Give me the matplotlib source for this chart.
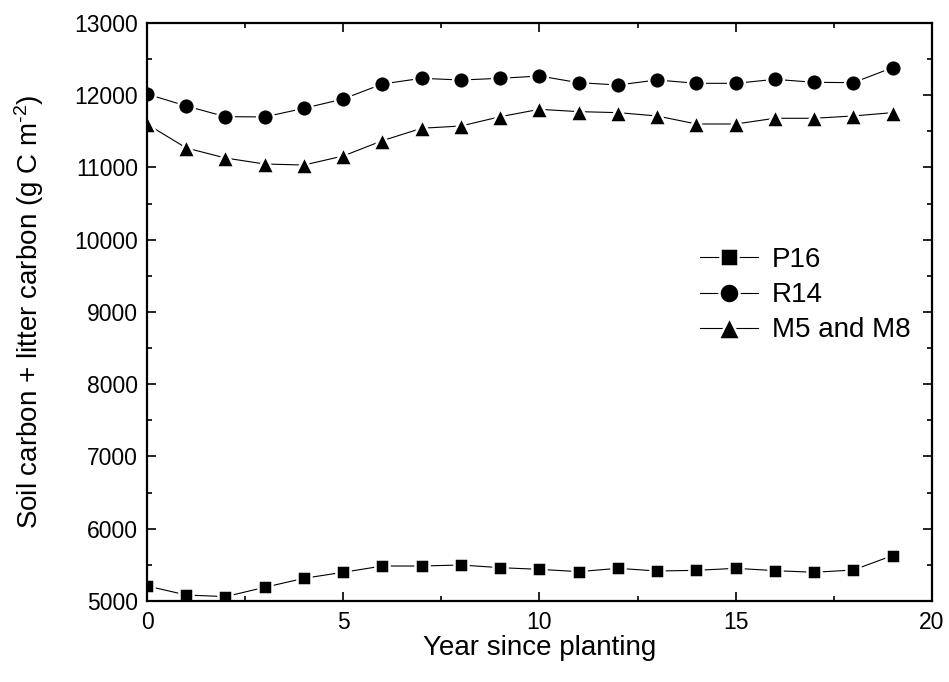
import matplotlib
matplotlib.use("Agg")
import matplotlib.pyplot as plt
from matplotlib.ticker import MultipleLocator

# tahun sejak tanam
years = list(range(20))

p16 = [5208, 5083, 5060, 5189, 5314, 5397, 5484, 5484, 5498, 5461,
       5438, 5406, 5452, 5415, 5424, 5452, 5420, 5397, 5429, 5628]
r14 = [12017, 11851, 11703, 11700, 11819, 11948, 12156, 12234, 12211, 12234,
       12266, 12174, 12142, 12211, 12165, 12165, 12220, 12179, 12174, 12382]
m5m8 = [11600, 11270, 11131, 11048, 11034, 11159, 11371, 11543, 11574, 11703,
        11805, 11773, 11759, 11713, 11602, 11602, 11681, 11681, 11713, 11759]

plt.rcParams['font.family'] = ['Liberation Sans', 'DejaVu Sans']
plt.rcParams['mathtext.fontset'] = 'custom'
plt.rcParams['mathtext.rm'] = 'Liberation Sans'
plt.rcParams['mathtext.it'] = 'Liberation Sans:italic'
plt.rcParams['mathtext.bf'] = 'Liberation Sans:bold'

fig = plt.figure(figsize=(9.49, 6.82), dpi=100)
ax = fig.add_axes([0.1549, 0.1188, 0.827, 0.8475])

# tepi putih supaya garis terputus di sekitar marker
gaya = dict(color='black', lw=0.8, mec='white', mew=1.8)
ax.plot(years, p16, marker='s', ms=10.5, label='P16', **gaya)
ax.plot(years, r14, marker='o', ms=12, label='R14', **gaya)
ax.plot(years, m5m8, marker='^', ms=13, label='M5 and M8', **gaya)

ax.set_xlim(0, 20)
ax.set_ylim(5000, 13000)
ax.xaxis.set_major_locator(MultipleLocator(5))
ax.xaxis.set_minor_locator(MultipleLocator(2.5))
ax.yaxis.set_major_locator(MultipleLocator(1000))
ax.yaxis.set_minor_locator(MultipleLocator(500))
ax.tick_params(which='both', direction='in', top=True, right=True,
               width=1.2, labelsize=16.5)
ax.tick_params(which='major', length=6.5)
ax.tick_params(axis='x', which='major', pad=7)
ax.tick_params(axis='y', which='major', pad=6.5)
ax.tick_params(which='minor', length=3.5)
for s in ax.spines.values():
    s.set_linewidth(1.6)

ax.set_xlabel('Year since planting', fontsize=20, labelpad=1)
ax.set_ylabel('Soil carbon + litter carbon (g C m$^{\\text{-2}}$)',
              fontsize=20, labelpad=20)

ax.legend(loc='upper left', bbox_to_anchor=(0.7376, 0.6377),
          bbox_transform=fig.transFigure, frameon=False, fontsize=20,
          numpoints=1, markerscale=1.2, handlelength=2.1, handletextpad=0.5,
          labelspacing=0.33, borderpad=0, borderaxespad=0)

plt.savefig('out.png', dpi=100)
